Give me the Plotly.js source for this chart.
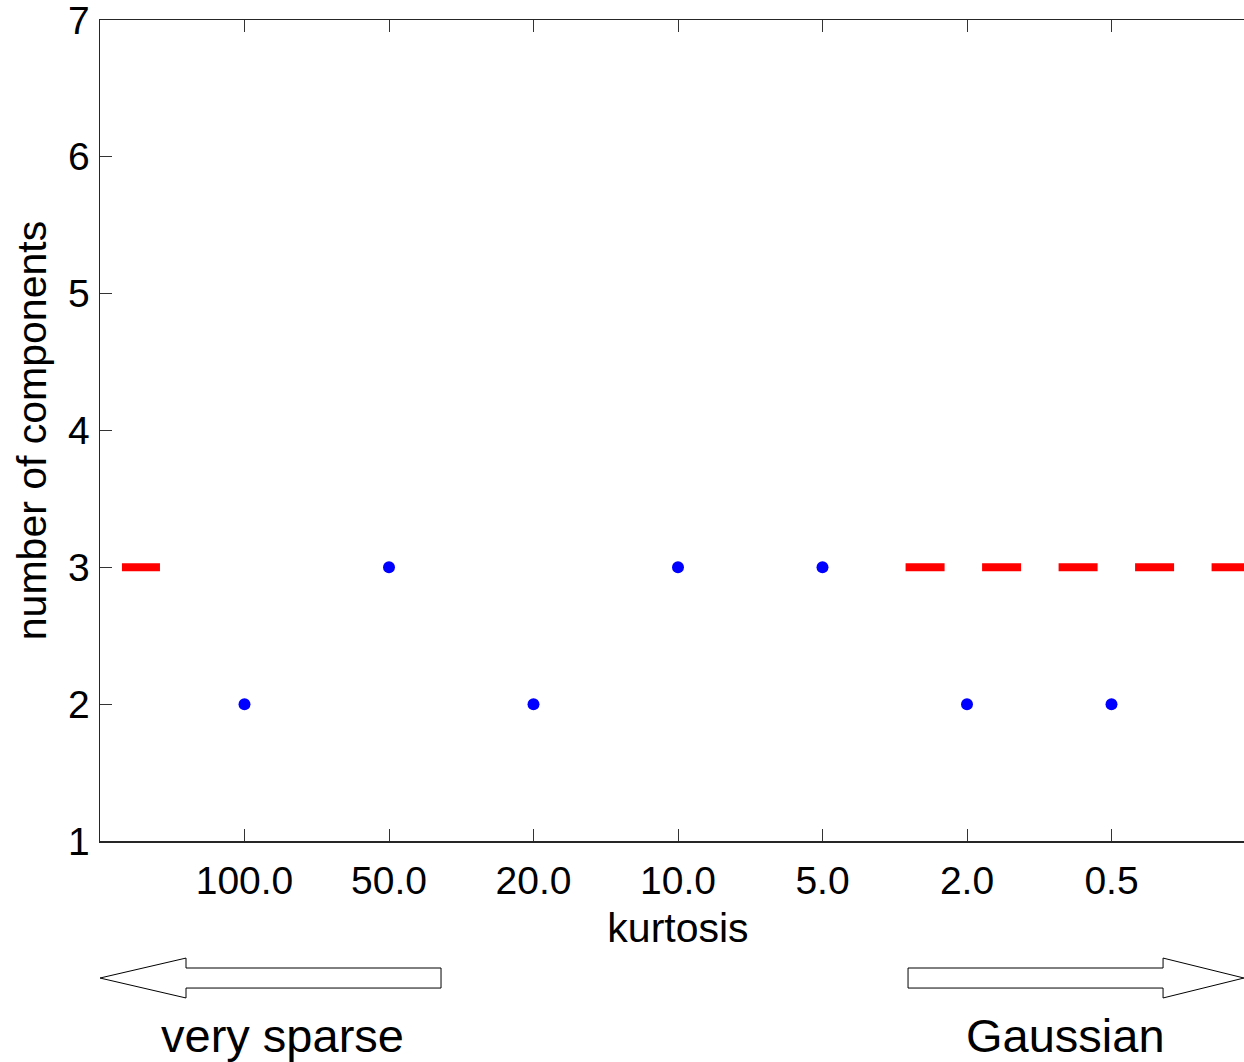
<!DOCTYPE html>
<html>
<head>
<meta charset="utf-8">
<script src="https://cdn.plot.ly/plotly-3.0.1.min.js"></script>
<style>
html, body { margin: 0; padding: 0; overflow: hidden; background: #fff; }
#chart { width: 1258px; height: 1062px; }
</style>
</head>
<body>
<div id="chart"></div>
<script>
// Data
const kurtosisLabels = ["100.0", "50.0", "20.0", "10.0", "5.0", "2.0", "0.5"];
const positions = [1, 2, 3, 4, 5, 6, 7];
const numComponents = [2, 3, 2, 3, 3, 2, 2];
const trueComponents = 3;
const refLineLeft = [0.152, 0.415];
const refLineRight = [5.575, 8];
const yTicks = [1, 2, 3, 4, 5, 6, 7];

const font = "Liberation Sans, Arial, Helvetica, sans-serif";

const traces = [
  {
    x: [refLineLeft[0], refLineLeft[1], null, refLineRight[0], refLineRight[1]],
    y: [trueComponents, trueComponents, null, trueComponents, trueComponents],
    mode: "lines",
    line: { color: "rgb(255,0,0)", width: 8, dash: "39px,37.5px" },
    connectgaps: false,
    hoverinfo: "skip",
    showlegend: false
  },
  {
    x: positions,
    y: numComponents,
    mode: "markers",
    marker: { color: "rgb(0,0,255)", size: 12 },
    showlegend: false
  }
];

function arrowPath(xTip, xHead, xTail, yMid, hh, bh) {
  return `M ${xTip} ${yMid} L ${xHead} ${yMid + hh} L ${xHead} ${yMid + bh} L ${xTail} ${yMid + bh} L ${xTail} ${yMid - bh} L ${xHead} ${yMid - bh} L ${xHead} ${yMid - hh} Z`;
}

const layout = {
  width: 1258,
  height: 1062,
  margin: { l: 100, r: 2, t: 20, b: 221 },
  paper_bgcolor: "#fff",
  plot_bgcolor: "#fff",
  font: { family: font, color: "#000", size: 39 },
  showlegend: false,
  xaxis: {
    range: [0, 8],
    tickvals: positions,
    ticktext: kurtosisLabels,
    ticks: "inside",
    ticklen: 12,
    tickwidth: 1,
    tickcolor: "#333",
    showline: true,
    linecolor: "#262626",
    linewidth: 1.5,
    mirror: "ticks",
    showgrid: false,
    zeroline: false,
    tickfont: { size: 39, family: font },
    ticklabelstandoff: 5,
    ticklabeloverflow: "allow",
    title: { text: "kurtosis", font: { size: 41, family: font }, standoff: 12 }
  },
  yaxis: {
    range: [1, 7],
    tickvals: yTicks,
    ticks: "inside",
    ticklen: 12,
    tickwidth: 1,
    tickcolor: "#333",
    showline: true,
    linecolor: "#262626",
    linewidth: 1.5,
    mirror: "ticks",
    showgrid: false,
    zeroline: false,
    tickfont: { size: 39, family: font },
    ticklabelstandoff: 1,
    ticklabeloverflow: "allow",
    title: { text: "number of components", font: { size: 41, family: font }, standoff: 8 }
  },
  shapes: [
    {
      type: "path", xref: "paper", yref: "paper",
      path: arrowPath(0, 0.0744, 0.295, -0.1669, 0.0243, 0.0122),
      line: { color: "#000", width: 1 }, fillcolor: "#fff"
    },
    {
      type: "path", xref: "paper", yref: "paper",
      path: arrowPath(0.9896, 0.9196, 0.699, -0.1669, 0.0243, 0.0122),
      line: { color: "#000", width: 1 }, fillcolor: "#fff"
    }
  ],
  annotations: [
    { text: "very sparse", xref: "paper", yref: "paper", x: 0.158, y: -0.2365,
      xanchor: "center", yanchor: "middle", showarrow: false,
      font: { size: 47, family: font, color: "#000" } },
    { text: "Gaussian", xref: "paper", yref: "paper", x: 0.835, y: -0.2365,
      xanchor: "center", yanchor: "middle", showarrow: false,
      font: { size: 47, family: font, color: "#000" } }
  ]
};

Plotly.newPlot("chart", traces, layout, { displayModeBar: false, staticPlot: true });
</script>
</body>
</html>
